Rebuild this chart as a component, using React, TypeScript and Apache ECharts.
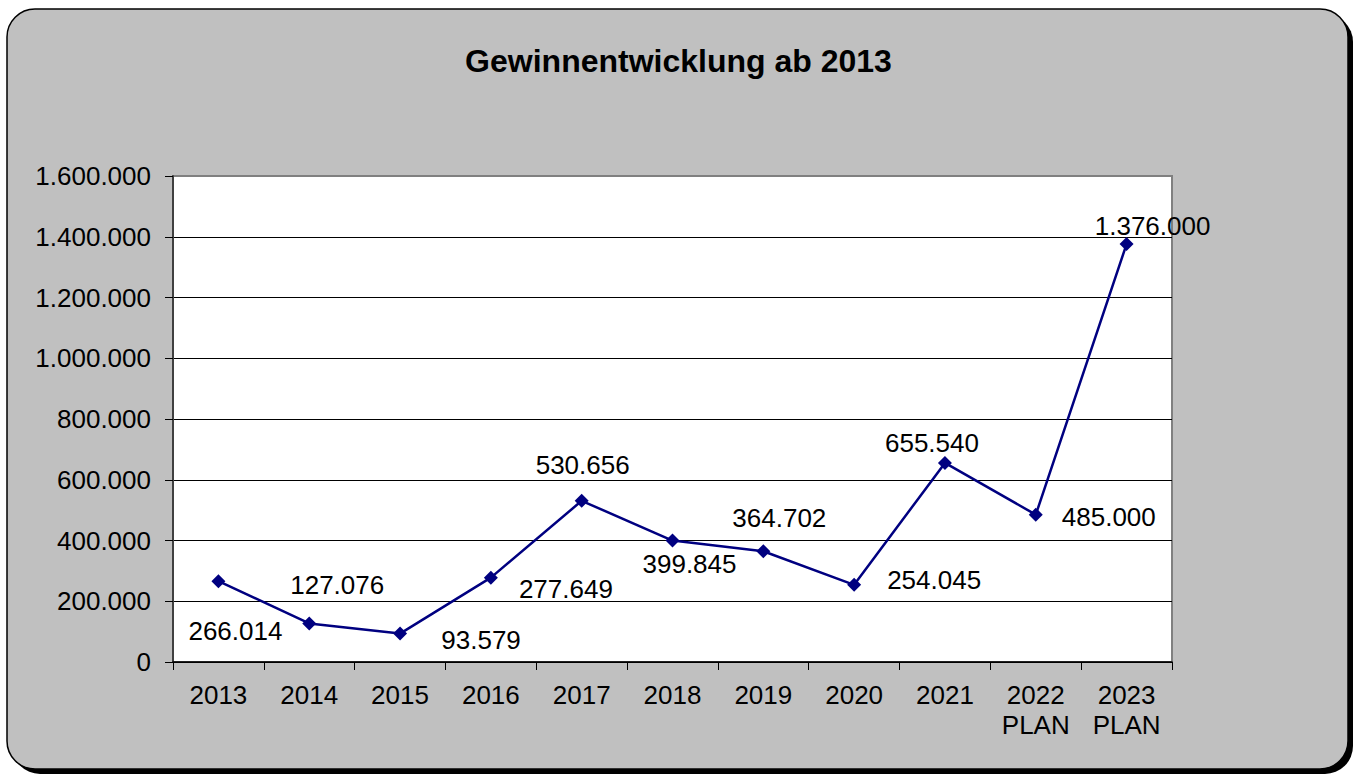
import React, { useEffect, useRef } from "react";
import * as echarts from "echarts";

const categories: string[] = ["2013", "2014", "2015", "2016", "2017", "2018", "2019", "2020", "2021", "2022\nPLAN", "2023\nPLAN"];
const profits: number[] = [266014, 127076, 93579, 277649, 530656, 399845, 364702, 254045, 655540, 485000, 1376000];
const labelOffsets: [number, number][] = [
  [17, 50], [28, -38], [81, 6], [75, 11], [1, -36], [17, 23], [16, -33], [80, -5], [-13, -20], [73, 2], [26, -18],
];
const yMin = 0;
const yMax = 1600000;
const yStep = 200000;

const FONT = "'Liberation Sans', Arial, sans-serif";

function fmt(v: number): string {
  return String(Math.round(v)).replace(/\B(?=(\d{3})+(?!\d))/g, ".");
}

export default function App() {
  const ref = useRef<HTMLDivElement>(null);
  useEffect(() => {
    document.body.style.margin = "0";
    const chart = echarts.init(ref.current!, null, { renderer: "svg" });
    const splitColors: string[] = [];
    for (let v = yMin; v <= yMax; v += yStep) splitColors.push(v === yMax ? "#808080" : "#000000");
    chart.setOption({
      animation: false,
      graphic: [
        { type: "rect", z: -10, silent: true, shape: { x: 12, y: 14, width: 1341, height: 760, r: 28 }, style: { fill: "#000" } },
        { type: "rect", z: -9, silent: true, shape: { x: 7, y: 9, width: 1341, height: 760, r: 28 }, style: { fill: "#c0c0c0", stroke: "#000", lineWidth: 1.5 } },
      ],
      title: {
        text: "Gewinnentwicklung ab 2013",
        left: "center",
        top: 40,
        textStyle: { fontFamily: FONT, fontSize: 32, fontWeight: "bold", color: "#000" },
      },
      grid: {
        left: 173,
        right: 185,
        top: 176,
        bottom: 116,
        show: true,
        backgroundColor: "#ffffff",
        borderColor: "#808080",
        borderWidth: 2,
      },
      xAxis: {
        type: "category",
        data: categories,
        boundaryGap: true,
        axisLine: { lineStyle: { color: "#000", width: 1.5 } },
        axisTick: { show: true, length: 8, alignWithLabel: false, lineStyle: { color: "#000" } },
        axisLabel: { color: "#000", fontFamily: FONT, fontSize: 26, margin: 18, lineHeight: 30, interval: 0 },
      },
      yAxis: {
        type: "value",
        min: yMin,
        max: yMax,
        interval: yStep,
        axisLine: { show: true, lineStyle: { color: "#404040", width: 2 } },
        axisTick: { show: true, length: 8, lineStyle: { color: "#000" } },
        axisLabel: { color: "#000", fontFamily: FONT, fontSize: 26, margin: 22, formatter: (v: number) => fmt(v) },
        splitLine: { show: true, lineStyle: { color: splitColors, width: 1 } },
      },
      series: [
        {
          type: "line",
          data: profits.map((v, i) => ({
            value: v,
            label: { offset: labelOffsets[i] },
          })),
          symbol: "diamond",
          symbolSize: 14,
          itemStyle: { color: "#000080" },
          lineStyle: { color: "#000080", width: 2.5 },
          label: {
            show: true,
            position: "inside",
            align: "center",
            verticalAlign: "middle",
            color: "#000",
            fontFamily: FONT,
            fontSize: 26,
            formatter: (p: any) => fmt(p.value),
          },
          z: 5,
        },
      ],
    });
    return () => chart.dispose();
  }, []);
  return <div ref={ref} style={{ width: 1357, height: 778 }} />;
}
